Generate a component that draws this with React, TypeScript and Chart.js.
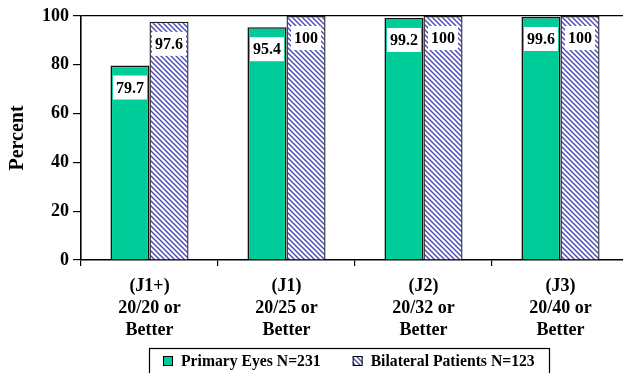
import React, { useEffect, useRef } from "react";
import { Chart, registerables } from "chart.js";

Chart.register(...registerables);

const categories: string[][] = [
  ["(J1+)", "20/20 or", "Better"],
  ["(J1)", "20/25 or", "Better"],
  ["(J2)", "20/32 or", "Better"],
  ["(J3)", "20/40 or", "Better"],
];
const primaryEyes: number[] = [79.7, 95.4, 99.2, 99.6];
const bilateralPatients: number[] = [97.6, 100, 100, 100];
const seriesNames: string[] = ["Primary Eyes N=231", "Bilateral Patients N=123"];
const yTicks: number[] = [0, 20, 40, 60, 80, 100];

const GREEN = "#00cc99";
const HATCH = "#4848b8";
const FONT = "'Liberation Serif', 'Times New Roman', serif";
const CANVAS_W = 697;
const CANVAS_H = 373;

function makeHatch(): CanvasPattern | string {
  const c = document.createElement("canvas");
  c.width = 5;
  c.height = 5;
  const g = c.getContext("2d");
  if (!g) return HATCH;
  g.fillStyle = "#ffffff";
  g.fillRect(0, 0, 5, 5);
  g.strokeStyle = HATCH;
  g.lineWidth = 1.4;
  g.beginPath();
  g.moveTo(-1, -1);
  g.lineTo(6, 6);
  g.moveTo(-6, -1);
  g.lineTo(1, 6);
  g.moveTo(4, -1);
  g.lineTo(11, 6);
  g.stroke();
  const p = g.createPattern(c, "repeat");
  return p || HATCH;
}

// White boxed value labels near the top of each bar
const valueLabels = {
  id: "valueLabels",
  afterDatasetsDraw(chart: any) {
    const ctx = chart.ctx;
    ctx.save();
    ctx.font = `bold 16px ${FONT}`;
    ctx.textAlign = "center";
    ctx.textBaseline = "middle";
    chart.data.datasets.forEach((ds: any, di: number) => {
      const meta = chart.getDatasetMeta(di);
      meta.data.forEach((bar: any, i: number) => {
        const text = String(ds.data[i]);
        const w = ctx.measureText(text).width + 6;
        const h = 24;
        const cy = bar.y + 22;
        ctx.fillStyle = "#ffffff";
        ctx.fillRect(bar.x - w / 2, cy - h / 2, w, h);
        ctx.fillStyle = "#000000";
        ctx.fillText(text, bar.x, cy + 1);
      });
    });
    ctx.restore();
  },
};

// Legend framed by a rectangle, centred under the chart
const boxedLegend = {
  id: "boxedLegend",
  afterDraw(chart: any) {
    const ctx = chart.ctx;
    const fills = chart.data.datasets.map((d: any) => d.backgroundColor);
    ctx.save();
    ctx.font = `bold 15.7px ${FONT}`;
    ctx.textBaseline = "middle";
    ctx.textAlign = "left";
    const marker = 10;
    const gapMarker = 8;
    const gapItems = 32;
    const widths = seriesNames.map((s) => ctx.measureText(s).width);
    const total =
      widths.reduce((a: number, b: number) => a + b, 0) +
      seriesNames.length * (marker + gapMarker) +
      gapItems * (seriesNames.length - 1);
    const boxPad = 14;
    const centerX = chart.width / 2;
    let x = Math.round(centerX - total / 2);
    const top = 348;
    const cy = 361;
    ctx.strokeStyle = "#000000";
    ctx.lineWidth = 1.2;
    ctx.strokeRect(x - boxPad + 0.5, top + 0.5, Math.round(total + boxPad * 2), 40);
    seriesNames.forEach((name, i) => {
      ctx.fillStyle = fills[i];
      ctx.fillRect(x, cy - marker / 2, marker, marker);
      ctx.strokeStyle = "#000000";
      ctx.lineWidth = 1;
      ctx.strokeRect(x + 0.5, cy - marker / 2 + 0.5, marker - 1, marker - 1);
      ctx.fillStyle = "#000000";
      ctx.fillText(name, x + marker + gapMarker, cy + 1);
      x += marker + gapMarker + widths[i] + gapItems;
    });
    ctx.restore();
  },
};

export default function App() {
  const ref = useRef<HTMLCanvasElement | null>(null);

  useEffect(() => {
    if (!ref.current) return;
    const chart = new Chart(ref.current, {
      type: "bar",
      data: {
        labels: categories,
        datasets: [
          {
            label: seriesNames[0],
            data: primaryEyes,
            backgroundColor: GREEN,
            borderColor: "#111111",
            borderWidth: 1.6,
            borderSkipped: "bottom",
          },
          {
            label: seriesNames[1],
            data: bilateralPatients,
            backgroundColor: makeHatch() as any,
            borderColor: "#222222",
            borderWidth: 1.4,
            borderSkipped: "bottom",
          },
        ],
      },
      options: {
        responsive: false,
        animation: false,
        devicePixelRatio: 1,
        layout: { padding: { left: 0, top: 16, right: CANVAS_W - 629, bottom: 33 } },
        datasets: {
          bar: { barPercentage: 1, categoryPercentage: 0.57 },
        },
        plugins: {
          legend: { display: false },
          tooltip: { enabled: false },
        },
        scales: {
          x: {
            offset: true,
            grid: {
              offset: true,
              drawOnChartArea: false,
              tickLength: 6,
              color: "#000000",
              lineWidth: 1.2,
            },
            border: { color: "#000000", width: 1.6 },
            ticks: {
              color: "#000000",
              font: { family: FONT, size: 18, weight: "bold", lineHeight: 1.22 },
              padding: 9,
              maxRotation: 0,
            },
            afterFit(scale: any) {
              scale.height = 80;
            },
          },
          y: {
            min: 0,
            max: 100,
            afterBuildTicks(scale: any) {
              scale.ticks = yTicks.map((v) => ({ value: v }));
            },
            grid: {
              drawOnChartArea: true,
              color: (c: any) => (c.tick && c.tick.value === 100 ? "#000000" : "rgba(0,0,0,0)"),
              tickColor: "#000000",
              tickLength: 8,
              lineWidth: 1.2,
            },
            border: { color: "#000000", width: 1.6 },
            ticks: {
              color: "#000000",
              font: { family: FONT, size: 18, weight: "bold" },
              padding: 4,
            },
            title: {
              display: true,
              text: "Percent",
              color: "#000000",
              font: { family: FONT, size: 20, weight: "bold" },
              padding: { top: 6, bottom: 0 },
            },
            afterFit(scale: any) {
              scale.width = 81;
            },
          },
        },
      },
      plugins: [valueLabels, boxedLegend],
    });
    return () => chart.destroy();
  }, []);

  return (
    <div
      style={{
        position: "fixed",
        left: 0,
        top: 0,
        width: 623,
        height: 373,
        overflow: "hidden",
        background: "#ffffff",
      }}
    >
      <canvas ref={ref} width={CANVAS_W} height={CANVAS_H} style={{ display: "block" }} />
    </div>
  );
}
